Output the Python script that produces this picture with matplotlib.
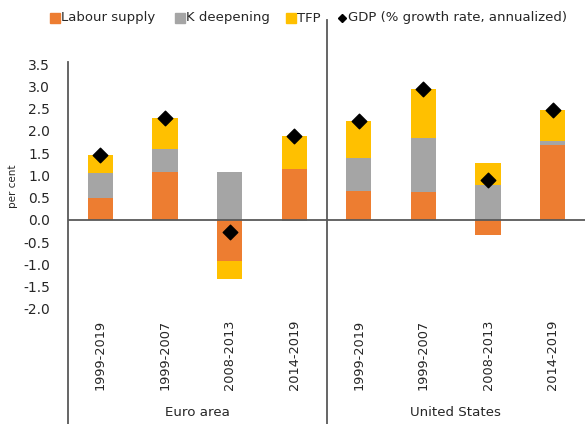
import matplotlib
matplotlib.use("Agg")
import matplotlib.pyplot as plt
import numpy as np
from matplotlib.lines import Line2D

periods = ["1999-2019", "1999-2007", "2008-2013", "2014-2019",
           "1999-2019", "1999-2007", "2008-2013", "2014-2019"]
regions = ["Euro area", "United States"]
labour = [0.50, 1.08, -0.93, 1.14, 0.65, 0.62, -0.35, 1.68]
k_deep = [0.55, 0.52, 1.08, -0.03, 0.75, 1.21, 0.79, 0.09]
tfp = [0.40, 0.69, -0.40, 0.74, 0.83, 1.11, 0.48, 0.69]
gdp = [1.45, 2.29, -0.27, 1.88, 2.23, 2.94, 0.90, 2.46]

C_LAB, C_K, C_TFP = "#ED7D31", "#A5A5A5", "#FFC000"
AXIS = "#595959"
INK = "#262626"
W, H = 585, 424

fig = plt.figure(figsize=(W / 100, H / 100), dpi=100)
ax = fig.add_axes([68 / W, (H - 309) / H, (W - 68) / W, (309 - 64) / H])

x = np.arange(len(periods))
pos = np.zeros(len(x))
neg = np.zeros(len(x))
for vals, col, lab in [(labour, C_LAB, "Labour supply"), (k_deep, C_K, "K deepening"),
                       (tfp, C_TFP, "TFP")]:
    v = np.array(vals)
    base = np.where(v >= 0, pos, neg)
    ax.bar(x, v, 0.39, bottom=base, color=col, label=lab, zorder=2)
    pos += np.where(v >= 0, v, 0)
    neg += np.where(v < 0, v, 0)
ax.scatter(x, gdp, marker="D", s=55, color="black", zorder=3,
           label="GDP (% growth rate, annualized)")

ax.set_xlim(-0.5, len(x) - 0.5)
ax.set_ylim(-2.0, 3.5)
yt = np.arange(-2.0, 3.51, 0.5)
ax.set_yticks(yt)
ax.set_yticklabels([f"{t:.1f}" for t in yt], fontsize=10, color=INK)
ax.tick_params(axis="y", length=0, pad=13)
ax.set_xticks([])
for s in ax.spines.values():
    s.set_visible(False)
ax.axhline(0, color=AXIS, lw=1.3, zorder=4)
ax.set_ylabel("per cent", fontsize=7.5, color=INK, labelpad=4)

# left axis line and divider in figure pixels
fig.add_artist(Line2D([68 / W, 68 / W], [0, (H - 62) / H], color=AXIS, lw=1.3))
fig.add_artist(Line2D([327 / W, 327 / W], [0, (H - 20) / H], color=AXIS, lw=1.3))

for i, p in enumerate(periods):
    ax.text(i, -2.24, p, rotation=90, ha="center", va="top", fontsize=9.3, color=INK)
for j, r in enumerate(regions):
    ax.text(1.5 + 4 * j, -4.33, r, ha="center", va="center", fontsize=9.6, color=INK)

# legend drawn item by item so the divider passes between TFP and GDP
leg = [(55, "s", C_LAB, 6.5, "Labour supply"),
       (180, "s", C_K, 6.5, "K deepening"),
       (291, "s", C_TFP, 6.5, "TFP"),
       (342, "D", "black", 4.5, "GDP (% growth rate, annualized)")]
ly = (H - 18) / H
for px, m, c, ms, txt in leg:
    fig.add_artist(Line2D([px / W], [ly], marker=m, ls="", color=c, markersize=ms))
    fig.text((px + 6) / W, ly, txt, ha="left", va="center", fontsize=9.5, color=INK)

fig.savefig("out.png", dpi=100, facecolor="white")
